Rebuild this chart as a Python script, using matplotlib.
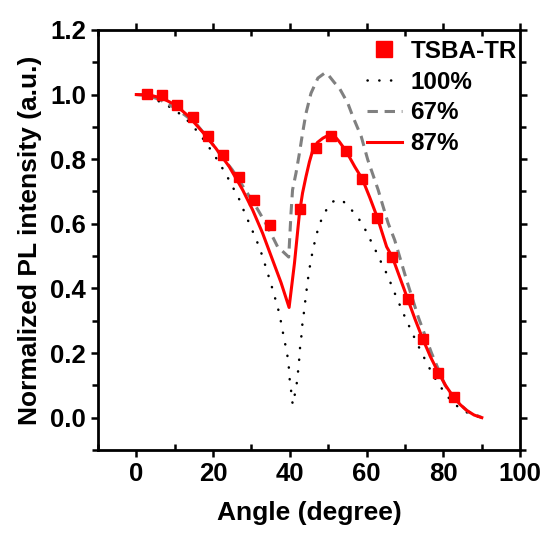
import matplotlib
matplotlib.use("Agg")
import matplotlib.pyplot as plt
from matplotlib.ticker import MultipleLocator

plt.rcParams['font.family'] = ['Liberation Sans', 'DejaVu Sans']
plt.rcParams['font.weight'] = 'bold'

# measured points (TSBA-TR)
exp_angle = [2.8, 6.7, 10.7, 14.7, 18.7, 22.7, 26.7, 30.7, 34.7,
             42.7, 46.7, 50.7, 54.7, 58.7, 62.7, 66.7, 70.7, 74.7, 78.7, 82.7]
exp_val = [1.001, 0.999, 0.968, 0.932, 0.872, 0.813, 0.745, 0.675, 0.597,
           0.646, 0.835, 0.873, 0.824, 0.738, 0.619, 0.497, 0.367, 0.244, 0.139, 0.063]

# simulated curves
a100 = [0, 4, 8, 12.4, 15.2, 17.6, 19.8, 21.8, 23.6, 25.2, 26.8, 28.1, 29.4, 30.7, 32.0,
        33.1, 34.0, 35.0, 35.9, 36.8, 37.5, 38.1, 38.7, 39.3, 39.7, 39.9, 40.3, 40.6, 40.8,
        41.4, 41.9, 42.2, 42.5, 42.7, 43.1, 43.3, 43.8, 44.1, 44.5, 44.9, 45.4, 46.0, 46.7,
        47.5, 48.8, 50.8, 52.3, 53.8, 56.6, 58.9, 60.3, 62.0, 63.4, 64.9, 66.2, 67.5, 68.8,
        70.1, 71.5, 73.0, 74.5, 76.0, 77.8, 79.8, 82.1, 84.8, 87.5, 90]
v100 = [1.0, 0.99, 0.967, 0.932, 0.896, 0.86, 0.822, 0.785, 0.748, 0.712, 0.676, 0.638, 0.602,
        0.566, 0.529, 0.491, 0.455, 0.418, 0.38, 0.344, 0.308, 0.269, 0.233, 0.197, 0.161,
        0.124, 0.086, 0.05, 0.041, 0.079, 0.114, 0.151, 0.189, 0.225, 0.261, 0.297, 0.336,
        0.372, 0.408, 0.445, 0.482, 0.519, 0.555, 0.591, 0.63, 0.666, 0.675, 0.671, 0.636,
        0.6, 0.566, 0.526, 0.49, 0.454, 0.418, 0.38, 0.344, 0.308, 0.272, 0.233, 0.197, 0.161,
        0.122, 0.086, 0.05, 0.024, 0.008, 0.0]

a67 = [0, 3, 6, 9.4, 12.5, 15.5, 19.0, 22.0, 25.0, 28.1, 31.2, 34.2, 36.8, 37.3, 39.7,
       40.3, 40.7, 41.6, 42.5, 43.3, 44.2, 45.5, 47.3, 49.0, 49.6, 51.6, 52.9, 55.1, 56.4,
       58.6, 60.3, 63.0, 64.3, 65.6, 67.3, 70.4, 73.4, 76.9, 80.4, 83.5, 86.5, 90]
v67 = [1.0, 0.997, 0.985, 0.963, 0.938, 0.911, 0.86, 0.813, 0.767, 0.71, 0.653, 0.591, 0.529,
       0.524, 0.497, 0.633, 0.705, 0.757, 0.819, 0.88, 0.942, 1.004, 1.051, 1.066, 1.067,
       1.037, 1.02, 0.973, 0.932, 0.87, 0.798, 0.705, 0.653, 0.602, 0.55, 0.426, 0.313, 0.2,
       0.101, 0.05, 0.018, 0.0]

a87 = [0, 3.3, 6.7, 10.2, 13.7, 17.2, 20.7, 24.2, 27.7, 30.3, 32.9, 35.5, 37.7, 39.8,
       41.2, 42.5, 43.3, 44.2, 45.1, 46.0, 47.2, 48.6, 49.7, 50.8, 51.9, 52.9, 54.7, 56.9,
       58.9, 60.8, 62.8, 65.2, 66.7, 68.7, 70.7, 72.6, 74.6, 76.6, 78.7, 80.7, 82.7, 84.4,
       86.1, 88.0, 90]
v87 = [1.0, 0.999, 0.989, 0.968, 0.932, 0.885, 0.834, 0.777, 0.705, 0.643, 0.571, 0.488,
       0.418, 0.341, 0.478, 0.633, 0.695, 0.746, 0.792, 0.829, 0.852, 0.865, 0.872, 0.875,
       0.868, 0.854, 0.824, 0.777, 0.738, 0.682, 0.619, 0.529, 0.497, 0.432, 0.367, 0.305,
       0.244, 0.189, 0.139, 0.097, 0.063, 0.04, 0.022, 0.008, 0.0]

fig = plt.figure(figsize=(5.47, 5.35), dpi=100)
ax = fig.add_axes([0.179, 0.159, 0.772, 0.785])

ax.plot(exp_angle, exp_val, 's', color='#ff0000', markersize=7.5, label='TSBA-TR', zorder=4)
ax.plot(a100, v100, color='black', linewidth=1.8, dashes=(0.1, 4.6),
        dash_capstyle='round', label='100%')
ax.plot(a67, v67, color='#808080', linewidth=2.2, dashes=(3.4, 2.2), label='67%')
ax.plot(a87, v87, color='#ff0000', linewidth=2.2, label='87%', zorder=3)

ax.set_xlim(-10, 100)
ax.set_ylim(-0.1, 1.2)
ax.xaxis.set_major_locator(MultipleLocator(20))
ax.xaxis.set_minor_locator(MultipleLocator(10))
ax.yaxis.set_major_locator(MultipleLocator(0.2))
ax.yaxis.set_minor_locator(MultipleLocator(0.1))
ax.yaxis.set_major_formatter(plt.FuncFormatter(lambda v, p: f"{v:.1f}"))

for s in ax.spines.values():
    s.set_linewidth(2.0)
ax.tick_params(axis='both', which='both', width=1.8, labelsize=18.5)
ax.tick_params(axis='x', which='major', direction='out', length=5, top=True)
ax.tick_params(axis='x', which='minor', direction='in', length=4, top=True)
ax.tick_params(axis='y', which='major', direction='out', length=5, right=True)
ax.tick_params(axis='y', which='minor', direction='out', length=4, right=True)

ax.set_xlabel('Angle (degree)', fontsize=19, fontweight='bold', labelpad=11)
ax.set_ylabel('Normalized PL intensity (a.u.)', fontsize=19, fontweight='bold', labelpad=6)

leg = ax.legend(loc='upper right', bbox_to_anchor=(1.0, 0.985), frameon=False,
                fontsize=17.5, handlelength=1.45, handletextpad=0.35,
                labelspacing=0.32, borderaxespad=0.0, borderpad=0.15, markerscale=1.5)

fig.savefig('out.png', dpi=100)
